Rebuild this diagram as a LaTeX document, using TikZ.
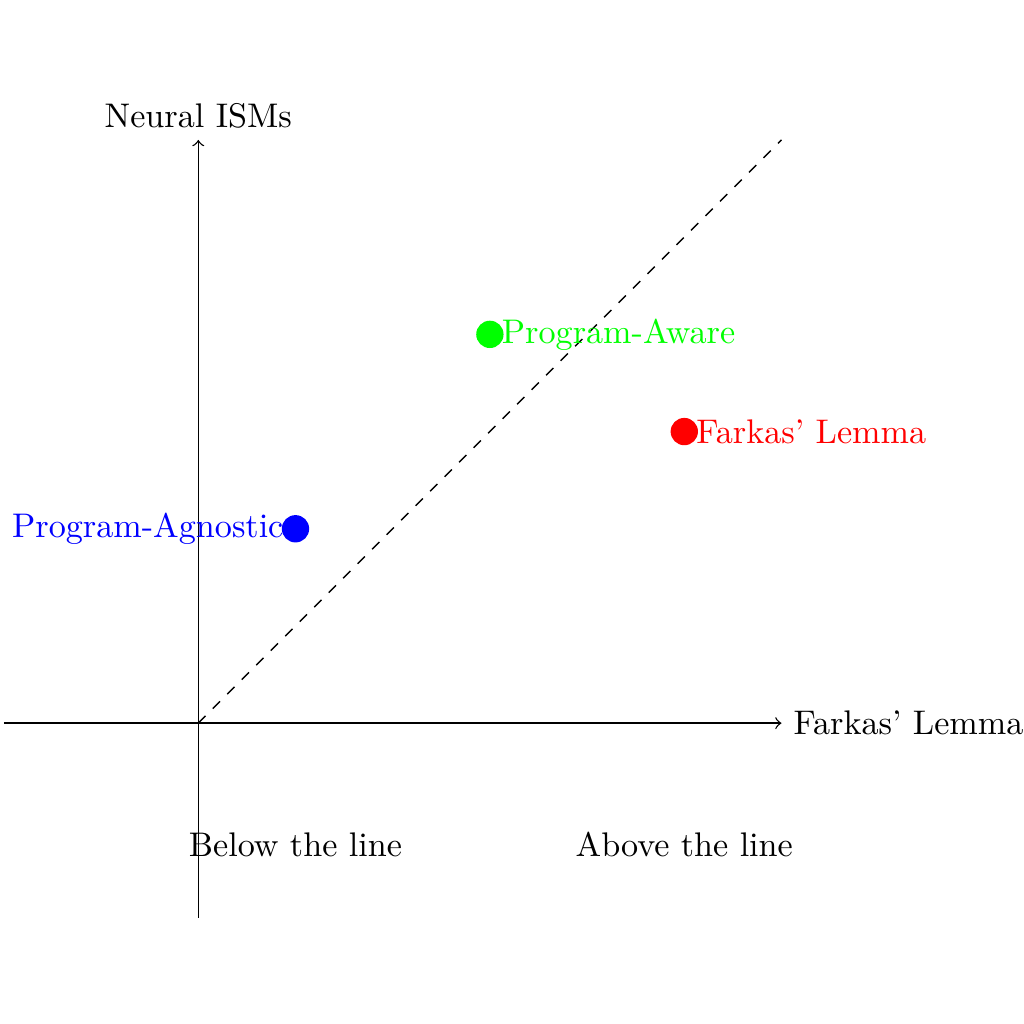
\documentclass[tikz,border=0pt]{standalone}
\usepackage{amsmath}
\usepackage{tikz}

\tikzset{
  point/.style={circle, inner sep=0pt, minimum size=8pt},
}

\begin{document}
\begin{tikzpicture}
  \useasboundingbox (-2.04,-3.095) rectangle (8.495,7.44);

  \coordinate (O) at (0,0);
  \coordinate (xmin) at (-2,0);
  \coordinate (xmax) at (6,0);
  \coordinate (ymin) at (0,-2);
  \coordinate (ymax) at (0,6);
  \coordinate (diag) at (6,6);

  \draw[->] (xmin) -- (xmax) node[right] (xlabel) {Farkas' Lemma};
  \draw[->] (ymin) -- (ymax) node[above] (ylabel) {Neural ISMs};
  \draw[dashed] (O) -- (diag);

  \node[point, fill=blue] (agnostic) at (1,2) {};
  \node[left, blue] (agnosticlabel) at (1,2) {Program-Agnostic};
  \node[point, fill=green] (aware) at (3,4) {};
  \node[right, green] (awarelabel) at (3,4) {Program-Aware};
  \node[point, fill=red] (farkas) at (5,3) {};
  \node[right, red] (farkaslabel) at (5,3) {Farkas' Lemma};

  \node[below] (below) at (1,-1) {Below the line};
  \node[below] (above) at (5,-1) {Above the line};
\end{tikzpicture}
\end{document}
